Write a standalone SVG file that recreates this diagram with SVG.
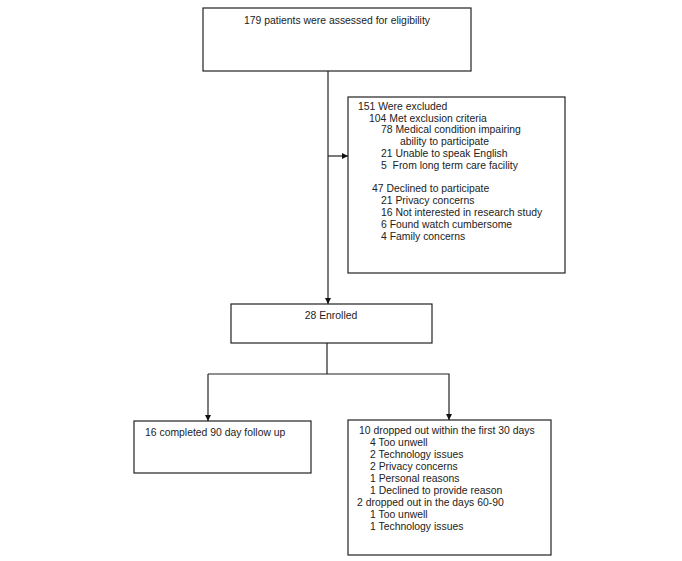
<svg xmlns="http://www.w3.org/2000/svg" width="682" height="561" viewBox="0 0 682 561">
<style>
.box{fill:#fff;stroke:#222;stroke-width:1.2}
.t{font-family:"Liberation Sans",Arial,sans-serif;font-size:10.4px;fill:#222}
.c{text-anchor:middle}
.ln{stroke:#222;stroke-width:1.2;fill:none}
</style>
<defs>
<marker id="ah" viewBox="0 0 10 10" refX="10" refY="5" markerWidth="6" markerHeight="6" markerUnits="userSpaceOnUse" orient="auto">
<path d="M0,0 L10,5 L0,10 z" fill="#111"/>
</marker>
</defs>
<rect width="682" height="561" fill="#fff"/>
<g id="connectors">
<line class="ln" x1="328" y1="71" x2="328" y2="304" marker-end="url(#ah)"/>
<line class="ln" x1="328" y1="156" x2="348" y2="156" marker-end="url(#ah)"/>
<line class="ln" x1="327" y1="343" x2="327" y2="374"/>
<polyline class="ln" points="208,374 449,374 449,420" marker-end="url(#ah)"/>
<line class="ln" x1="208" y1="374" x2="208" y2="421" marker-end="url(#ah)"/>
</g>
<g id="assessed">
<rect class="box" x="203" y="8" width="268" height="63"/>
<text class="t c" x="337" y="24">179 patients were assessed for eligibility</text>
</g>
<g id="excluded">
<rect class="box" x="348" y="97" width="217" height="176"/>
<text class="t" x="358" y="110">151 Were excluded</text>
<text class="t" x="369" y="122">104 Met exclusion criteria</text>
<text class="t" x="381" y="133">78 Medical condition impairing</text>
<text class="t" x="400" y="145">ability to participate</text>
<text class="t" x="381" y="157">21 Unable to speak English</text>
<text class="t" x="381" y="169">5&#160; From long term care facility</text>
<text class="t" x="372" y="192">47 Declined to participate</text>
<text class="t" x="381" y="204">21 Privacy concerns</text>
<text class="t" x="381" y="216">16 Not interested in research study</text>
<text class="t" x="381" y="228">6 Found watch cumbersome</text>
<text class="t" x="381" y="240">4 Family concerns</text>
</g>
<g id="enrolled">
<rect class="box" x="231" y="304" width="201" height="39"/>
<text class="t c" x="331" y="319">28 Enrolled</text>
</g>
<g id="completed">
<rect class="box" x="134" y="421" width="177" height="52"/>
<text class="t" x="145" y="436">16 completed 90 day follow up</text>
</g>
<g id="dropped">
<rect class="box" x="348" y="420" width="203" height="135"/>
<text class="t" x="359" y="434">10 dropped out within the first 30 days</text>
<text class="t" x="370" y="446">4 Too unwell</text>
<text class="t" x="370" y="458">2 Technology issues</text>
<text class="t" x="370" y="470">2 Privacy concerns</text>
<text class="t" x="370" y="482">1 Personal reasons</text>
<text class="t" x="370" y="494">1 Declined to provide reason</text>
<text class="t" x="357" y="506">2 dropped out in the days 60-90</text>
<text class="t" x="370" y="518">1 Too unwell</text>
<text class="t" x="370" y="530">1 Technology issues</text>
</g>
</svg>
